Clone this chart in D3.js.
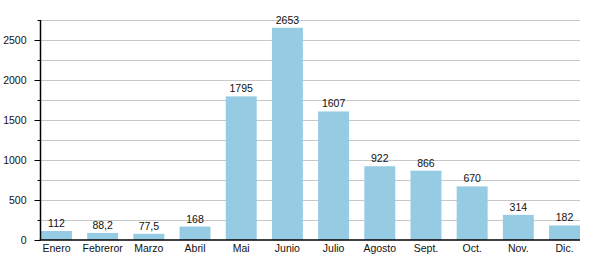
<!DOCTYPE html>
<html>
<head>
<meta charset="utf-8">
<script src="https://cdn.jsdelivr.net/npm/d3@7"></script>
<style>
  body { margin: 0; background: #fff; }
  svg text { font-family: "Liberation Sans", Arial, sans-serif; fill: #111; }
</style>
</head>
<body>
<div id="chart"></div>
<script>
// months and values
var months = ["Enero", "Febreror", "Marzo", "Abril", "Mai", "Junio", "Julio", "Agosto", "Sept.", "Oct.", "Nov.", "Dic."];
var values = [112, 88.2, 77.5, 168, 1795, 2653, 1607, 922, 866, 670, 314, 182];
var labels = ["112", "88,2", "77,5", "168", "1795", "2653", "1607", "922", "866", "670", "314", "182"];
var yTicks = [0, 500, 1000, 1500, 2000, 2500];

var width = 600, height = 280;
var plotLeft = 40.5, plotRight = 580, plotTop = 20, plotBottom = 240;

var svg = d3.select("#chart")
  .append("svg")
  .attr("width", width)
  .attr("height", height);

var y = d3.scaleLinear()
  .domain([0, 2750])
  .range([plotBottom, plotTop]);

var x = d3.scaleBand()
  .domain(months)
  .range([plotLeft + 0.5, plotRight])
  .paddingInner(0.33)
  .paddingOuter(0);

// grid lines every 250
svg.append("g")
  .selectAll("line")
  .data(d3.range(250, 2751, 250))
  .enter()
  .append("line")
  .attr("x1", plotLeft)
  .attr("x2", plotRight)
  .attr("y1", function(d) { return Math.round(y(d)) + 0.5; })
  .attr("y2", function(d) { return Math.round(y(d)) + 0.5; })
  .attr("stroke", "#c8c8c8")
  .attr("stroke-width", 1);

// bars
svg.append("g")
  .selectAll("rect")
  .data(values)
  .enter()
  .append("rect")
  .attr("x", function(d, i) { return x(months[i]); })
  .attr("y", function(d) { return y(d); })
  .attr("width", x.bandwidth())
  .attr("height", function(d) { return plotBottom - y(d); })
  .attr("fill", "#96cbe4");

// value labels
svg.append("g")
  .selectAll("text")
  .data(values)
  .enter()
  .append("text")
  .attr("x", function(d, i) { return x(months[i]) + x.bandwidth() / 2; })
  .attr("y", function(d) { return y(d) - 4; })
  .attr("text-anchor", "middle")
  .style("font-size", "10.5px")
  .text(function(d, i) { return labels[i]; });

// y axis: major ticks + minor ticks
var yAxis = svg.append("g")
  .attr("transform", "translate(" + plotLeft + ",0)")
  .call(d3.axisLeft(y).tickValues(yTicks).tickFormat(d3.format("d")).tickSize(6).tickPadding(8));
yAxis.select(".domain").remove();
yAxis.selectAll("text").style("font-size", "10.5px");
yAxis.selectAll("line").attr("stroke", "#000");

svg.append("g")
  .selectAll("line")
  .data(d3.range(250, 2751, 500))
  .enter()
  .append("line")
  .attr("x1", plotLeft - 3)
  .attr("x2", plotLeft)
  .attr("y1", function(d) { return Math.round(y(d)) + 0.5; })
  .attr("y2", function(d) { return Math.round(y(d)) + 0.5; })
  .attr("stroke", "#000");

svg.append("line")
  .attr("x1", plotLeft).attr("x2", plotLeft)
  .attr("y1", plotTop).attr("y2", plotBottom)
  .attr("stroke", "#000")
  .attr("stroke-width", 1.5);

// x axis
var xAxis = svg.append("g")
  .attr("transform", "translate(0," + plotBottom + ")")
  .call(d3.axisBottom(x).tickSize(0).tickPadding(5));
xAxis.select(".domain").remove();
xAxis.selectAll("text").style("font-size", "10.5px");

svg.append("line")
  .attr("x1", plotLeft - 0.75).attr("x2", plotRight)
  .attr("y1", plotBottom).attr("y2", plotBottom)
  .attr("stroke", "#000")
  .attr("stroke-width", 1.5);
</script>
</body>
</html>
